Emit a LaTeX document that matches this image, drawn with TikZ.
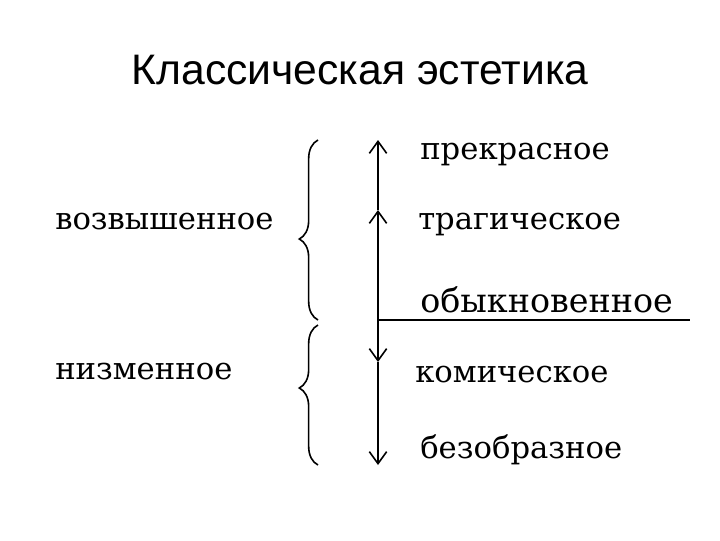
\documentclass[tikz,border=0pt]{standalone}
\usepackage{fontspec}
\setmainfont{DejaVu Serif}
\newfontfamily\titlefont{Liberation Sans}
\usetikzlibrary{arrows.meta,decorations.pathreplacing}
\begin{document}
\begin{tikzpicture}[x=0.75pt,y=-0.75pt,
  lbl/.style={font=\fontsize{23}{26}\selectfont, inner sep=0pt, anchor=west},
  ax/.style={line width=1.2pt, -{Straight Barb[length=9pt,width=13pt,line width=1.2pt]}},
  br/.style={line width=1.2pt, decorate, decoration={brace,amplitude=14pt,aspect=0.45}}]
\useasboundingbox (0,0) rectangle (720,540);
\node[font=\titlefont\fontsize{32}{36}\selectfont] (title) at (360,70) {Классическая эстетика};
\coordinate (top) at (378,140);
\coordinate (up2) at (378,210);
\coordinate (mid) at (378,320);
\coordinate (dn1) at (378,362);
\coordinate (bot) at (378,465);
\coordinate (right) at (690,320);
\draw[ax] (up2) -- (top);
\draw[ax] (mid) -- (up2);
\draw[ax] (mid) -- (dn1);
\draw[ax] (dn1) -- (bot);
\draw[line width=1.2pt] (mid) -- (right);
\coordinate (b1s) at (318,320);
\coordinate (b1e) at (318,140);
\coordinate (b2s) at (318,465);
\coordinate (b2e) at (318,325);
\draw[br] (b1s) -- (b1e);
\draw[br,decoration={aspect=0.55}] (b2s) -- (b2e);
\node[lbl] (p) at (420,155) {прекрасное};
\node[lbl] (t) at (418,225) {трагическое};
\node[lbl,font=\fontsize{25}{28}\selectfont] (o) at (420,300) {обыкновенное};
\node[lbl] (k) at (415,375) {комическое};
\node[lbl] (b) at (420,450) {безобразное};
\node[lbl] (v) at (55,222) {возвышенное};
\node[lbl] (n) at (55,372) {низменное};
\end{tikzpicture}
\end{document}
